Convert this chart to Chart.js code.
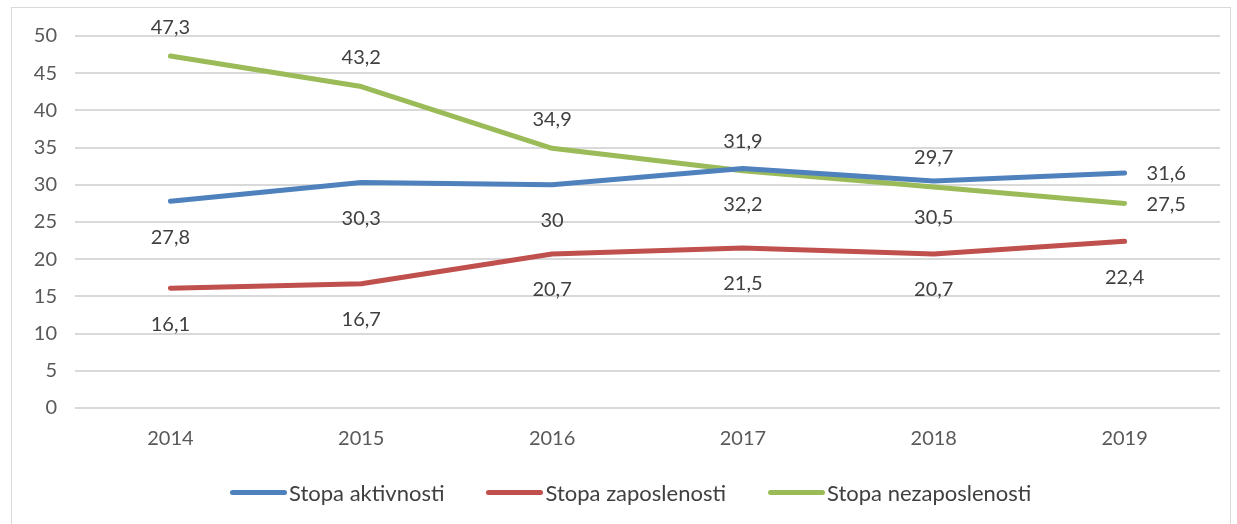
<!DOCTYPE html>
<html lang="sr">
<head>
<meta charset="UTF-8">
<title>Stope</title>
<style>
    body { margin: 0; background: #fff; font-family: "Lato", "Noto Sans", sans-serif; }
    .okvir { position: absolute; left: 11px; top: 7px; width: 1218px; height: 540px; border: 1px solid #d9d9d9; }
    .graf { position: absolute; left: 0; top: 0; width: 1237px; height: 524px; }
    .legenda { position: absolute; left: 230px; top: 478px; height: 28px; display: flex; align-items: center; font-size: 22px; color: #404040; }
    .legenda .stavka { display: flex; align-items: center; margin-right: 42px; }
    .legenda .linija { width: 57px; height: 5px; border-radius: 3px; margin-right: 2px; }
</style>
</head>
<body>
<div class="okvir"></div>
<div class="graf"><canvas id="stope"></canvas></div>
<div class="legenda" id="legenda"></div>

<script src="https://cdn.jsdelivr.net/npm/chart.js@4.4.1/dist/chart.umd.min.js"></script>
<script>
    // podaci
    var godine = ['2014', '2015', '2016', '2017', '2018', '2019'];
    var stopaAktivnosti = [27.8, 30.3, 30, 32.2, 30.5, 31.6];
    var stopaZaposlenosti = [16.1, 16.7, 20.7, 21.5, 20.7, 22.4];
    var stopaNezaposlenosti = [47.3, 43.2, 34.9, 31.9, 29.7, 27.5];

    // gde ide oznaka vrednosti
    var pozAktivnosti = ['dole', 'dole', 'dole', 'dole', 'dole', 'desno'];
    var pozZaposlenosti = ['dole', 'dole', 'dole', 'dole', 'dole', 'dole'];
    var pozNezaposlenosti = ['gore', 'gore', 'gore', 'gore', 'gore', 'desno'];

    var font = '"Lato", "Noto Sans", sans-serif';

    // crta vrednosti pored tacaka (nema datalabels plugina)
    var oznake = {
        id: 'oznake',
        afterDatasetsDraw(chart) {
            var ctx = chart.ctx;
            ctx.save();
            ctx.font = '20px ' + font;
            ctx.fillStyle = '#404040';
            ctx.textBaseline = 'middle';
            chart.data.datasets.forEach(function (ds, i) {
                var meta = chart.getDatasetMeta(i);
                meta.data.forEach(function (p, j) {
                    var txt = String(ds.data[j]).replace('.', ',');
                    var poz = ds.pozicije[j];
                    if (poz == 'gore') {
                        ctx.textAlign = 'center';
                        ctx.fillText(txt, p.x, p.y - 29);
                    } else if (poz == 'dole') {
                        ctx.textAlign = 'center';
                        ctx.fillText(txt, p.x, p.y + 36);
                    } else {
                        ctx.textAlign = 'left';
                        ctx.fillText(txt, p.x + 22, p.y + 1);
                    }
                });
            });
            ctx.restore();
        }
    };

    var graf = new Chart(document.getElementById('stope'), {
        type: 'line',
        data: {
            labels: godine,
            datasets: [{
                label: 'Stopa aktivnosti',
                data: stopaAktivnosti,
                pozicije: pozAktivnosti,
                borderColor: '#4f81bd',
                backgroundColor: '#4f81bd'
            }, {
                label: 'Stopa zaposlenosti',
                data: stopaZaposlenosti,
                pozicije: pozZaposlenosti,
                borderColor: '#c0504d',
                backgroundColor: '#c0504d'
            }, {
                label: 'Stopa nezaposlenosti',
                data: stopaNezaposlenosti,
                pozicije: pozNezaposlenosti,
                borderColor: '#9bbb59',
                backgroundColor: '#9bbb59'
            }]
        },
        options: {
            responsive: true,
            maintainAspectRatio: false,
            animation: false,
            elements: {
                line: { borderWidth: 5, tension: 0, borderCapStyle: 'round', borderJoinStyle: 'round' },
                point: { radius: 0, hoverRadius: 0 }
            },
            layout: { padding: { left: 0, right: 17, top: 36, bottom: 0 } },
            plugins: {
                tooltip: { enabled: false },
                legend: { display: false }
            },
            scales: {
                x: {
                    offset: true,
                    grid: { display: false, drawTicks: false },
                    border: { display: false },
                    ticks: { font: { family: font, size: 20 }, color: '#595959', padding: 19 },
                    afterFit: function (s) { s.height = 116; }
                },
                y: {
                    min: 0,
                    max: 50,
                    ticks: { stepSize: 5, font: { family: font, size: 20 }, color: '#595959', padding: 18 },
                    grid: { color: '#d9d9d9', lineWidth: 2, drawTicks: false },
                    border: { display: false },
                    afterFit: function (s) { s.width = 75; }
                }
            }
        },
        plugins: [oznake]
    });

    // legenda u HTML-u, iz podataka grafika
    var legenda = document.getElementById('legenda');
    graf.data.datasets.forEach(function (ds) {
        var stavka = document.createElement('div');
        stavka.className = 'stavka';
        var linija = document.createElement('span');
        linija.className = 'linija';
        linija.style.background = ds.borderColor;
        var tekst = document.createElement('span');
        tekst.textContent = ds.label;
        stavka.appendChild(linija);
        stavka.appendChild(tekst);
        legenda.appendChild(stavka);
    });
</script>
</body>
</html>
